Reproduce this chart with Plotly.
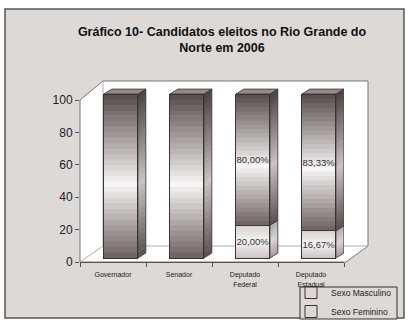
import plotly.graph_objects as go

# ---------------- data ----------------
categories = ["Governador", "Senador", "Deputado<br>Federal", "Deputado<br>Estadual"]
masculino = [100, 100, 80, 83.33]
feminino = [0, 0, 20, 16.67]
series_names = ["Sexo Masculino", "Sexo Feminino"]
y_ticks = [0, 20, 40, 60, 80, 100]
title_text = "<b>Gráfico 10- Candidatos eleitos no Rio Grande do<br>Norte em 2006</b>"

# ---------------- geometry / style ----------------
FONT = "Liberation Sans, Arial, sans-serif"
W, H = 408, 320
ML, MR, MT, MB = 80, 64, 88, 58
PW = W - ML - MR
PH = H - MT - MB
AX_PPU = 1.62          # px per unit for tick axis
BAR_PPU = 1.64         # px per unit for bar axis (3D front plane)
BAR_FLOOR = 4          # px bars sit above the axis floor
y_range = [0, PH / AX_PPU]
y2_range = [-BAR_FLOOR / BAR_PPU, (PH - BAR_FLOOR) / BAR_PPU]
x_range = [-0.5, 3.5]
x2_range = [-0.62, 3.38]
bar_w = 0.515
dx, dy = 0.12, 3.0
N = 30
FRAME_BG = "#dcd9d7"


def hex2rgb(h):
    h = h.lstrip("#")
    return tuple(int(h[i:i + 2], 16) for i in (0, 2, 4))


def grad(stops, t):
    for (t0, c0), (t1, c1) in zip(stops[:-1], stops[1:]):
        if t0 <= t <= t1:
            f = (t - t0) / (t1 - t0) if t1 > t0 else 0
            a, b = hex2rgb(c0), hex2rgb(c1)
            return "rgb(%d,%d,%d)" % tuple(round(a[k] + (b[k] - a[k]) * f) for k in range(3))
    return stops[-1][1]


male_front = [(0, "#6c6161"), (0.45, "#f6f4f4"), (1, "#564b4b")]
male_side = [(0, "#5a5050"), (0.45, "#c9c3c3"), (1, "#4a4040")]
fem_front = [(0, "#c9c3c3"), (0.5, "#f6f4f4"), (1, "#d6d1d1")]
fem_side = [(0, "#a39c9c"), (0.5, "#d9d5d5"), (1, "#b0aaaa")]
top_color = "#958a8a"
edge = "#3b3232"

shapes = []


def px2paper_x(px):
    return (px - ML) / PW


def px2paper_y(py):
    return (H - MB - py) / PH


# outer frame
shapes.append(dict(type="rect", xref="paper", yref="paper",
                   x0=px2paper_x(5), x1=px2paper_x(404), y0=px2paper_y(318), y1=px2paper_y(9),
                   fillcolor=FRAME_BG, line=dict(color="#555", width=1.5), layer="below"))

# 3D wall + floor
y100 = 100 / y_range[1]
wall_pts = [(0, 0), (0, y100), (px2paper_x(103), px2paper_y(81)), (px2paper_x(368), px2paper_y(81)),
            (px2paper_x(368), px2paper_y(246)), (px2paper_x(346), 0)]
path = "M " + " L ".join("%f,%f" % p for p in wall_pts) + " Z"
shapes.append(dict(type="path", xref="paper", yref="paper", path=path,
                   fillcolor="white", line=dict(color="#777", width=1), layer="below"))
inner = [((0, 0), (px2paper_x(103), px2paper_y(246))),
         ((px2paper_x(103), px2paper_y(246)), (px2paper_x(368), px2paper_y(246))),
         ((px2paper_x(103), px2paper_y(246)), (px2paper_x(103), px2paper_y(81)))]
for (a, b) in inner:
    shapes.append(dict(type="line", xref="paper", yref="paper", x0=a[0], y0=a[1], x1=b[0], y1=b[1],
                       line=dict(color="#999", width=0.8), layer="below"))

# legend box
shapes.append(dict(type="rect", xref="paper", yref="paper",
                   x0=px2paper_x(300), x1=px2paper_x(397), y0=px2paper_y(319), y1=px2paper_y(287),
                   fillcolor=FRAME_BG, line=dict(color="#333", width=1), layer="below"))

# gradient 3D bars from data
for i in range(len(categories)):
    base = 0
    x0, x1 = i - bar_w / 2, i + bar_w / 2
    for val, fs, ss in [(feminino[i], fem_front, fem_side), (masculino[i], male_front, male_side)]:
        if val <= 0:
            continue
        y0, y1 = base, base + val
        for k in range(N):
            a = y0 + (y1 - y0) * k / N
            b = y0 + (y1 - y0) * (k + 1) / N + (0.4 if k < N - 1 else 0)
            t = (k + 0.5) / N
            shapes.append(dict(type="rect", xref="x2", yref="y2", x0=x0, x1=x1, y0=a, y1=b,
                               fillcolor=grad(fs, t), line=dict(width=0), layer="below"))
            p = "M %f,%f L %f,%f L %f,%f L %f,%f Z" % (x1, a, x1 + dx, a + dy, x1 + dx, b + dy, x1, b)
            shapes.append(dict(type="path", xref="x2", yref="y2", path=p,
                               fillcolor=grad(ss, t), line=dict(width=0), layer="below"))
        p = "M %f,%f L %f,%f L %f,%f L %f,%f Z" % (x1, y0, x1 + dx, y0 + dy, x1 + dx, y1 + dy, x1, y1)
        shapes.append(dict(type="path", xref="x2", yref="y2", path=p,
                           fillcolor="rgba(0,0,0,0)", line=dict(color=edge, width=0.8), layer="below"))
        base = y1
    p = "M %f,%f L %f,%f L %f,%f L %f,%f Z" % (x0, base, x1, base, x1 + dx, base + dy, x0 + dx, base + dy)
    shapes.append(dict(type="path", xref="x2", yref="y2", path=p,
                       fillcolor=top_color, line=dict(color=edge, width=0.8), layer="below"))


def fmt(v):
    return ("%.2f%%" % v).replace(".", ",")


show = [m > 0 and f > 0 for m, f in zip(masculino, feminino)]
fem_text = [fmt(v) if s else "" for v, s in zip(feminino, show)]
masc_text = [fmt(v) if s else "" for v, s in zip(masculino, show)]

xs = list(range(len(categories)))
fig = go.Figure()
common = dict(xaxis="x2", yaxis="y2", width=bar_w, textposition="inside", insidetextanchor="middle",
              textangle=0, textfont=dict(size=9.5, color="#333", family=FONT), constraintext="none",
              hoverinfo="skip",
              marker=dict(color="rgba(255,255,255,0)", line=dict(color=edge, width=1)))
fig.add_trace(go.Bar(x=xs, y=feminino, name=series_names[1], text=fem_text, **common))
fig.add_trace(go.Bar(x=xs, y=masculino, name=series_names[0], text=masc_text, **common))
# invisible trace on main axes so they render
fig.add_trace(go.Scatter(x=[0], y=[0], mode="markers", marker=dict(opacity=0), showlegend=False,
                         hoverinfo="skip"))

fig.update_layout(
    width=W, height=H,
    margin=dict(l=ML, r=MR, t=MT, b=MB, autoexpand=False),
    paper_bgcolor="white", plot_bgcolor="rgba(0,0,0,0)",
    font=dict(family=FONT, color="#222"),
    barmode="stack",
    shapes=shapes,
    title=dict(text=title_text, x=222 / W, xanchor="center", y=1 - 36 / H, yanchor="top",
               font=dict(size=12.5, color="#111", family=FONT)),
    xaxis=dict(range=x_range, tickvals=xs, ticktext=categories, ticks="", showgrid=False,
               zeroline=False, showline=True, linecolor="#555", linewidth=1,
               tickfont=dict(size=7, color="#222"), ticklabelstandoff=6,
               minor=dict(tickvals=[-0.5, 0.5, 1.5, 2.5, 3.5], ticks="outside", ticklen=4,
                          tickcolor="#555", showgrid=False)),
    yaxis=dict(range=y_range, tickvals=y_ticks, ticks="outside", ticklen=4, tickcolor="#555",
               showgrid=False, zeroline=False, showline=False, tickfont=dict(size=12, color="#222")),
    xaxis2=dict(range=x2_range, overlaying="x", visible=False, anchor="y2"),
    yaxis2=dict(range=y2_range, overlaying="y", visible=False, anchor="x2"),
    showlegend=True,
    legend=dict(x=px2paper_x(291), y=px2paper_y(278), xanchor="left", yanchor="top",
                bgcolor="rgba(0,0,0,0)", borderwidth=0,
                font=dict(size=8.5, color="#222", family=FONT), itemwidth=30, tracegroupgap=0,
                traceorder="reversed"),
)
fig.write_html("out.html")
